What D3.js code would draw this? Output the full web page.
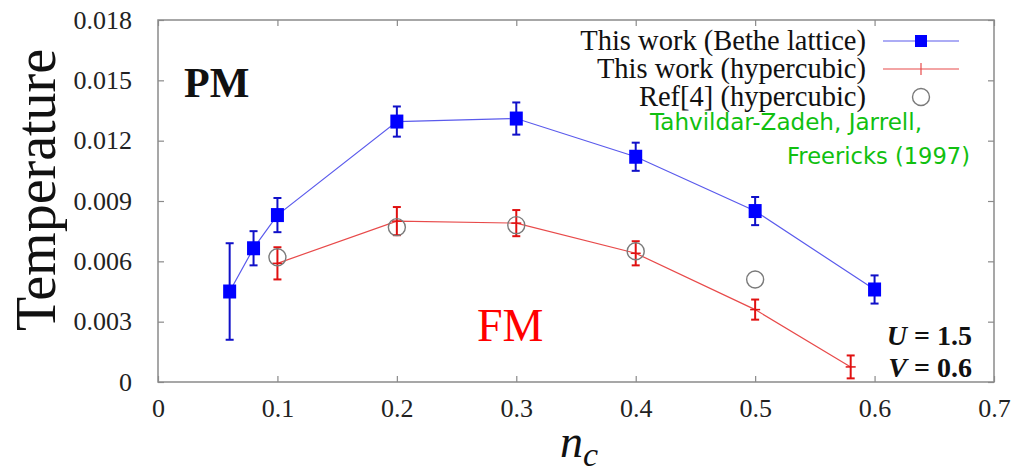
<!DOCTYPE html>
<html>
<head>
<script src="https://d3js.org/d3.v7.min.js"></script>
<style>
body { margin: 0; background: #fff; }
svg text { font-family: "Liberation Serif", "Times New Roman", serif; }
</style>
</head>
<body>
<div id="chart"></div>
<script>
// Bethe lattice (this work)
var betheX = [0.06, 0.08, 0.10, 0.20, 0.30, 0.40, 0.50, 0.60];
var betheT = [0.0045, 0.00665, 0.0083, 0.01295, 0.0131, 0.0112, 0.0085, 0.0046];
var betheErr = [0.0024, 0.00085, 0.00085, 0.00075, 0.0008, 0.0007, 0.0007, 0.0007];
// hypercubic (this work)
var hyperX = [0.10, 0.20, 0.30, 0.40, 0.50, 0.58];
var hyperT = [0.0059, 0.0080, 0.0079, 0.0064, 0.0036, 0.00075];
var hyperErr = [0.0008, 0.0007, 0.00065, 0.0006, 0.0005, 0.00057];
// Ref[4] hypercubic
var refX = [0.10, 0.20, 0.30, 0.40, 0.50];
var refT = [0.0062, 0.0077, 0.0078, 0.0065, 0.0051];

var xTicks = [0, 0.1, 0.2, 0.3, 0.4, 0.5, 0.6, 0.7];
var yTicks = [0, 0.003, 0.006, 0.009, 0.012, 0.015, 0.018];
var legendLabels = ["This work (Bethe lattice)", "This work (hypercubic)", "Ref[4] (hypercubic)"];

var W = 1028, H = 474;
var margin = {top: 20, right: 34, bottom: 92, left: 158};
var width = W - margin.left - margin.right;
var height = H - margin.top - margin.bottom;

var svg = d3.select("#chart").append("svg")
	.attr("width", W).attr("height", H);
var g = svg.append("g")
	.attr("transform", "translate(" + margin.left + "," + margin.top + ")");

var x = d3.scaleLinear().domain([0, 0.7]).range([0, width]);
var y = d3.scaleLinear().domain([0, 0.018]).range([height, 0]);

var axisColor = "#8a8a8a";

// ticks on all four sides, pointing inward
g.append("g").attr("transform", "translate(0," + height + ")")
	.call(d3.axisBottom(x).tickValues(xTicks).tickSize(-6).tickFormat(d3.format("")).tickPadding(17))
	.call(styleAxis);
g.append("g")
	.call(d3.axisTop(x).tickValues(xTicks).tickSize(-6).tickFormat(""))
	.call(styleAxis);
g.append("g")
	.call(d3.axisLeft(y).tickValues(yTicks).tickSize(-6).tickFormat(d3.format("")).tickPadding(26))
	.call(styleAxis);
g.append("g").attr("transform", "translate(" + width + ",0)")
	.call(d3.axisRight(y).tickValues(yTicks).tickSize(-6).tickFormat(""))
	.call(styleAxis);

function styleAxis(sel) {
	sel.select(".domain").remove();
	sel.selectAll(".tick line").attr("stroke", axisColor).attr("stroke-width", 1.2);
	sel.selectAll(".tick text")
		.attr("fill", "#222")
		.style("font-family", "Liberation Serif")
		.style("font-size", "26px");
}

g.append("rect")
	.attr("width", width).attr("height", height)
	.attr("fill", "none")
	.attr("stroke", axisColor).attr("stroke-width", 1.5);

// axis titles
svg.append("text")
	.attr("transform", "translate(55,190) rotate(-90)")
	.attr("text-anchor", "middle")
	.style("font-size", "56px")
	.attr("fill", "#111")
	.text("Temperature");

var xl = svg.append("text")
	.attr("x", 560).attr("y", 457)
	.style("font-size", "46px")
	.style("font-style", "italic")
	.attr("fill", "#111");
xl.append("tspan").text("n");
xl.append("tspan").attr("dy", 9).style("font-size", "34px").text("c");

// lines
var line = d3.line().x(function(d){ return x(d[0]); }).y(function(d){ return y(d[1]); });

g.append("path")
	.datum(d3.zip(betheX, betheT))
	.attr("d", line)
	.attr("fill", "none").attr("stroke", "#5a5aec").attr("stroke-width", 1.2);

g.append("path")
	.datum(d3.zip(hyperX, hyperT))
	.attr("d", line)
	.attr("fill", "none").attr("stroke", "#e84a4a").attr("stroke-width", 1.2);

// error bars
function errorBars(xs, ts, es, color) {
	var data = d3.zip(xs, ts, es);
	var eb = g.append("g");
	eb.selectAll(".v").data(data).enter().append("line")
		.attr("x1", function(d){ return x(d[0]); })
		.attr("x2", function(d){ return x(d[0]); })
		.attr("y1", function(d){ return y(d[1] - d[2]); })
		.attr("y2", function(d){ return y(d[1] + d[2]); })
		.attr("stroke", color).attr("stroke-width", 2);
	[-1, 1].forEach(function(s) {
		eb.selectAll(".c" + (s + 1)).data(data).enter().append("line")
			.attr("x1", function(d){ return x(d[0]) - 4; })
			.attr("x2", function(d){ return x(d[0]) + 4; })
			.attr("y1", function(d){ return y(d[1] + s * d[2]); })
			.attr("y2", function(d){ return y(d[1] + s * d[2]); })
			.attr("stroke", color).attr("stroke-width", 2);
	});
	return eb;
}

errorBars(hyperX, hyperT, hyperErr, "#e01010");
g.append("g").selectAll("line").data(d3.zip(hyperX, hyperT)).enter().append("line")
	.attr("x1", function(d){ return x(d[0]) - 5; })
	.attr("x2", function(d){ return x(d[0]) + 5; })
	.attr("y1", function(d){ return y(d[1]); })
	.attr("y2", function(d){ return y(d[1]); })
	.attr("stroke", "#e01010").attr("stroke-width", 1.5);

errorBars(betheX, betheT, betheErr, "#1010c8");
g.append("g").selectAll("rect").data(d3.zip(betheX, betheT)).enter().append("rect")
	.attr("x", function(d){ return x(d[0]) - 6.5; })
	.attr("y", function(d){ return y(d[1]) - 7; })
	.attr("width", 13).attr("height", 14)
	.attr("fill", "#0000ff");

// Ref[4] circles
g.append("g").selectAll("circle").data(d3.zip(refX, refT)).enter().append("circle")
	.attr("cx", function(d){ return x(d[0]); })
	.attr("cy", function(d){ return y(d[1]); })
	.attr("r", 8.5)
	.attr("fill", "none").attr("stroke", "#7a7a7a").attr("stroke-width", 1.4);

// legend
var leg = svg.append("g");
var legY = [41, 69, 97];
leg.selectAll("text").data(legendLabels).enter().append("text")
	.attr("x", 866)
	.attr("y", function(d, i){ return legY[i] + 9; })
	.attr("text-anchor", "end")
	.style("font-size", "28.5px")
	.attr("fill", "#111")
	.text(function(d){ return d; });

leg.append("line").attr("x1", 883).attr("x2", 959).attr("y1", legY[0]).attr("y2", legY[0])
	.attr("stroke", "#5a5aec").attr("stroke-width", 1.2);
leg.append("rect").attr("x", 915).attr("y", legY[0] - 6).attr("width", 12).attr("height", 12).attr("fill", "#0000ff");
leg.append("line").attr("x1", 883).attr("x2", 959).attr("y1", legY[1]).attr("y2", legY[1])
	.attr("stroke", "#e84a4a").attr("stroke-width", 1.2);
leg.append("line").attr("x1", 921).attr("x2", 921).attr("y1", legY[1] - 6).attr("y2", legY[1] + 6)
	.attr("stroke", "#e84a4a").attr("stroke-width", 1.2);
leg.append("circle").attr("cx", 921).attr("cy", legY[2]).attr("r", 8.5)
	.attr("fill", "none").attr("stroke", "#7a7a7a").attr("stroke-width", 1.4);

// green citation
svg.append("text")
	.attr("x", 650).attr("y", 130)
	.attr("textLength", 272).attr("lengthAdjust", "spacingAndGlyphs")
	.style("font-family", "DejaVu Sans")
	.style("font-size", "23px")
	.attr("fill", "#10c010")
	.text("Tahvildar-Zadeh, Jarrell,");
svg.append("text")
	.attr("x", 787).attr("y", 164)
	.attr("textLength", 183).attr("lengthAdjust", "spacingAndGlyphs")
	.style("font-family", "DejaVu Sans")
	.style("font-size", "23px")
	.attr("fill", "#10c010")
	.text("Freericks (1997)");

// phase labels
svg.append("text")
	.attr("x", 184).attr("y", 97)
	.style("font-size", "42px").style("font-weight", "bold")
	.attr("fill", "#111")
	.text("PM");
svg.append("text")
	.attr("x", 477).attr("y", 341)
	.style("font-size", "46px")
	.attr("fill", "#ff0000")
	.text("FM");

var params = [["U", " = 1.5"], ["V", " = 0.6"]];
var pm = svg.append("g");
params.forEach(function(p, i) {
	var t = pm.append("text")
		.attr("x", 972).attr("y", 345 + i * 32)
		.attr("text-anchor", "end")
		.style("font-size", "28px").style("font-weight", "bold")
		.attr("fill", "#111");
	t.append("tspan").style("font-style", "italic").text(p[0]);
	t.append("tspan").text(p[1]);
});
</script>
</body>
</html>
